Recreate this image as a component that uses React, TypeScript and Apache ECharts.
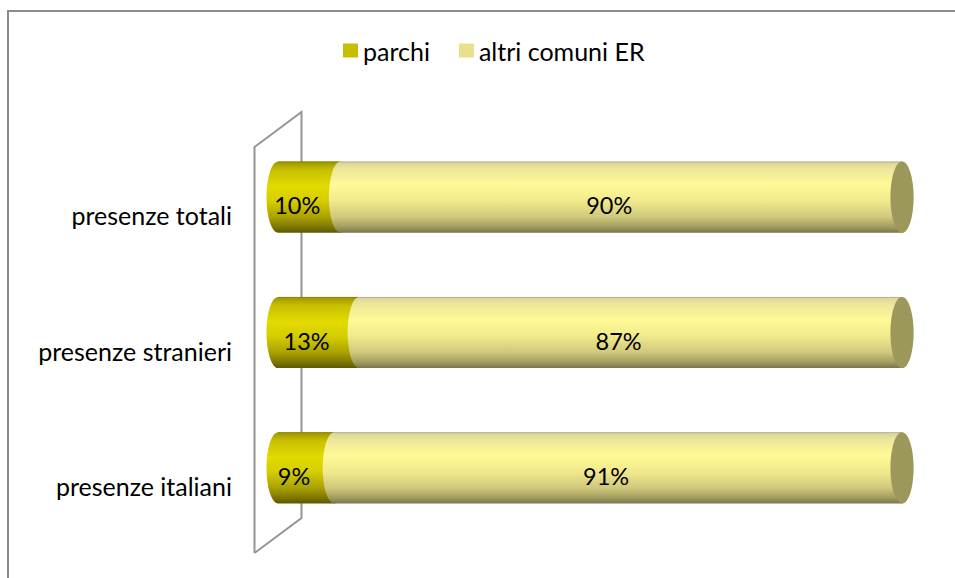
import React, { useEffect, useRef } from "react";
import * as echarts from "echarts";

const categories = ["presenze totali", "presenze stranieri", "presenze italiani"];
const parchi = [10, 13, 9];
const altri = [90, 87, 91];
const seriesNames = ["parchi", "altri comuni ER"];

const FONT = "Lato, 'Open Sans', sans-serif";

function parchiFill() {
  return new echarts.graphic.LinearGradient(0, 0, 0, 1, [
    { offset: 0, color: "#9c9400" },
    { offset: 0.12, color: "#c8c000" },
    { offset: 0.35, color: "#e2da00" },
    { offset: 0.55, color: "#d6ce00" },
    { offset: 0.78, color: "#aaa200" },
    { offset: 0.92, color: "#7c7600" },
    { offset: 1, color: "#5c5800" },
  ]);
}
function altriFill() {
  return new echarts.graphic.LinearGradient(0, 0, 0, 1, [
    { offset: 0, color: "#d8d29a" },
    { offset: 0.1, color: "#ece69a" },
    { offset: 0.33, color: "#fffa96" },
    { offset: 0.55, color: "#f0ea8c" },
    { offset: 0.78, color: "#d0c87c" },
    { offset: 0.92, color: "#a29c5e" },
    { offset: 1, color: "#787450" },
  ]);
}

export default function App() {
  const ref = useRef<HTMLDivElement>(null);
  useEffect(() => {
    const chart = echarts.init(ref.current!, null, { renderer: "svg" });

    const segment = (api: any, idx: number, start: number, end: number, fill: any, cap: boolean, edge: string, text: string) => {
      const p0 = api.coord([start, idx]);
      const p1 = api.coord([end, idx]);
      const band = api.size([0, 1])[1];
      const ry = band * 0.263;
      const rx = ry * 0.325;
      const cy = p0[1];
      const x0 = p0[0];
      const x1 = p1[0];
      const d = `M${x0} ${cy - ry} A${rx} ${ry} 0 0 0 ${x0} ${cy + ry} L${x1} ${cy + ry} A${rx} ${ry} 0 0 0 ${x1} ${cy - ry} Z`;
      const children: any[] = [
        { type: "path", shape: { pathData: d }, style: { fill } },
        {
          type: "line",
          shape: { x1: x0, y1: cy - ry + 0.5, x2: x1, y2: cy - ry + 0.5 },
          style: { stroke: edge, lineWidth: 1 },
        },
      ];
      if (cap) {
        children.push({
          type: "ellipse",
          shape: { cx: x1, cy, rx, ry },
          style: { fill: "#9c985c" },
        });
      }
      children.push({
        type: "text",
        x: (x0 + x1) / 2 - 12,
        y: cy + 8,
        style: {
          text,
          fill: "#000",
          font: `23.5px ${FONT}`,
          align: "center",
          verticalAlign: "middle",
        },
      });
      return { type: "group", children };
    };

    const option: any = {
      animation: false,
      graphic: [
        {
          type: "rect",
          shape: { x: 8, y: 11, width: 980, height: 620 },
          style: { fill: "none", stroke: "#8c8c8c", lineWidth: 2 },
          silent: true,
        },
      ],
      legend: {
        data: seriesNames,
        left: 343,
        top: 38,
        padding: 0,
        icon: "rect",
        itemWidth: 15,
        itemHeight: 14,
        itemGap: 29,
        textStyle: { fontSize: 25, fontFamily: FONT, color: "#000" },
      },
      grid: { left: 278, right: 53, top: 129.5, bottom: 42.5 },
      xAxis: {
        type: "value",
        min: 0,
        max: 100,
        show: false,
      },
      yAxis: {
        type: "category",
        data: categories,
        inverse: true,
        axisLine: { show: false },
        axisTick: { show: false },
        splitLine: { show: false },
        axisLabel: {
          fontSize: 25,
          fontFamily: FONT,
          color: "#000",
          margin: 46,
          verticalAlign: "top",
          lineHeight: 36,
        },
      },
      series: [
        {
          type: "custom",
          name: "wall",
          clip: false,
          silent: true,
          encode: { x: 0, y: 1 },
          data: [[0, 0]],
          renderItem: (params: any, api: any) => {
            const n = categories.length;
            const band = api.size([0, 1])[1];
            const pTop = api.coord([0, 0]);
            const pBot = api.coord([0, n - 1]);
            const top = pTop[1] - band / 2;
            const bottom = pBot[1] + band / 2;
            const x = pTop[0];
            const dx = 23.5;
            const dy = 17.5;
            return {
              type: "polyline",
              shape: {
                points: [
                  [x - dx, bottom + dy],
                  [x - dx, top + dy],
                  [x + dx, top - dy],
                  [x + dx, bottom - dy],
                  [x - dx, bottom + dy],
                ],
              },
              style: { fill: "none", stroke: "#949494", lineWidth: 2 },
            };
          },
        },
        {
          type: "custom",
          name: seriesNames[0],
          clip: false,
          itemStyle: { color: "#c8be00" },
          encode: { x: [0, 1], y: 2 },
          data: parchi.map((v, i) => [0, v, i]),
          renderItem: (params: any, api: any) => {
            const i = params.dataIndex;
            return segment(api, i, 0, parchi[i], parchiFill(), false, "#8c8600", `${parchi[i]}%`);
          },
        },
        {
          type: "custom",
          name: seriesNames[1],
          clip: false,
          itemStyle: { color: "#e8e08a" },
          encode: { x: [0, 1], y: 2 },
          data: altri.map((v, i) => [parchi[i], parchi[i] + v, i]),
          renderItem: (params: any, api: any) => {
            const i = params.dataIndex;
            return segment(api, i, parchi[i], parchi[i] + altri[i], altriFill(), true, "#b4b098", `${altri[i]}%`);
          },
        },
      ],
    };
    chart.setOption(option);
    return () => chart.dispose();
  }, []);
  return (
    <div
      ref={ref}
      style={{ position: "fixed", left: 0, top: 0, width: 955, height: 578, background: "#fff" }}
    />
  );
}
